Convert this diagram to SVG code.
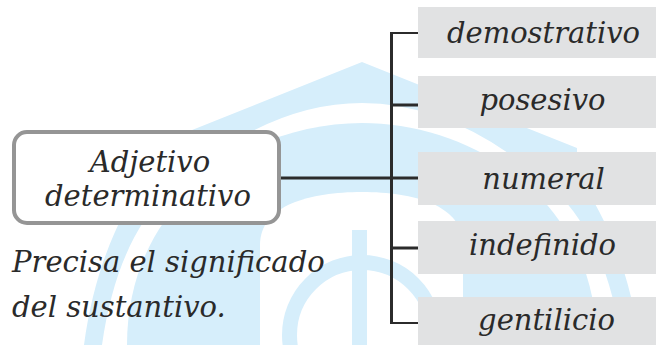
<svg xmlns="http://www.w3.org/2000/svg" width="656" height="345" viewBox="0 0 656 345">
<style>
.wm{fill:#d6eefb}
.t{font-family:"DejaVu Serif",serif;font-style:italic;font-size:29px;fill:#2a2a2a}
.c{text-anchor:middle}
.opt{fill:#e1e2e3}
.ln{stroke:#2b2b2b;fill:none}
</style>
<rect width="656" height="345" fill="#ffffff"/>
<g id="watermark">
<path class="wm" d="M362,62 L577,148 L577,175 C605,215 630,270 640,345 L622,345 C612,275 590,225 555,190 Q362,16 169,190 C134,225 112,275 102,345 L84,345 C94,270 119,215 147,175 L147,148 Z"/>
<path class="wm" d="M127,345 C127,200 250,123 362,123 C474,123 597,200 597,345 Z"/>
<path fill="#ffffff" d="M260,345 V245 C260,205 310,192 362,192 C414,192 463,205 463,245 V345 Z"/>
<circle cx="362" cy="335" r="72.5" fill="none" stroke="#d6eefb" stroke-width="15"/>
<rect class="wm" x="352" y="230" width="15" height="115"/>
</g>
<g id="connectors">
<line class="ln" x1="391.5" y1="32" x2="391.5" y2="324" stroke-width="3"/>
<line class="ln" x1="390" y1="33" x2="418" y2="33" stroke-width="2"/>
<line class="ln" x1="390" y1="105" x2="418" y2="105" stroke-width="3"/>
<line class="ln" x1="281" y1="178" x2="418" y2="178" stroke-width="3"/>
<line class="ln" x1="390" y1="248" x2="418" y2="248" stroke-width="3"/>
<line class="ln" x1="390" y1="323" x2="418" y2="323" stroke-width="2"/>
</g>
<g id="main">
<rect x="14" y="132" width="265" height="91" rx="13" fill="#ffffff" stroke="#959595" stroke-width="4"/>
<text class="t c" x="150" y="172">Adjetivo</text>
<text class="t c" x="148" y="206">determinativo</text>
</g>
<g id="caption">
<text class="t" x="12" y="272">Precisa el significado</text>
<text class="t" x="12" y="317">del sustantivo.</text>
</g>
<g id="demostrativo">
<rect class="opt" x="418" y="7" width="238" height="51"/>
<text class="t c" x="543.5" y="43">demostrativo</text>
</g>
<g id="posesivo">
<rect class="opt" x="418" y="76" width="238" height="52"/>
<text class="t c" x="542.5" y="110">posesivo</text>
</g>
<g id="numeral">
<rect class="opt" x="418" y="152" width="238" height="53"/>
<text class="t c" x="543.5" y="189">numeral</text>
</g>
<g id="indefinido">
<rect class="opt" x="418" y="221" width="238" height="53"/>
<text class="t c" x="542.5" y="255">indefinido</text>
</g>
<g id="gentilicio">
<rect class="opt" x="418" y="297" width="238" height="48"/>
<text class="t c" x="546.5" y="330">gentilicio</text>
</g>
</svg>
